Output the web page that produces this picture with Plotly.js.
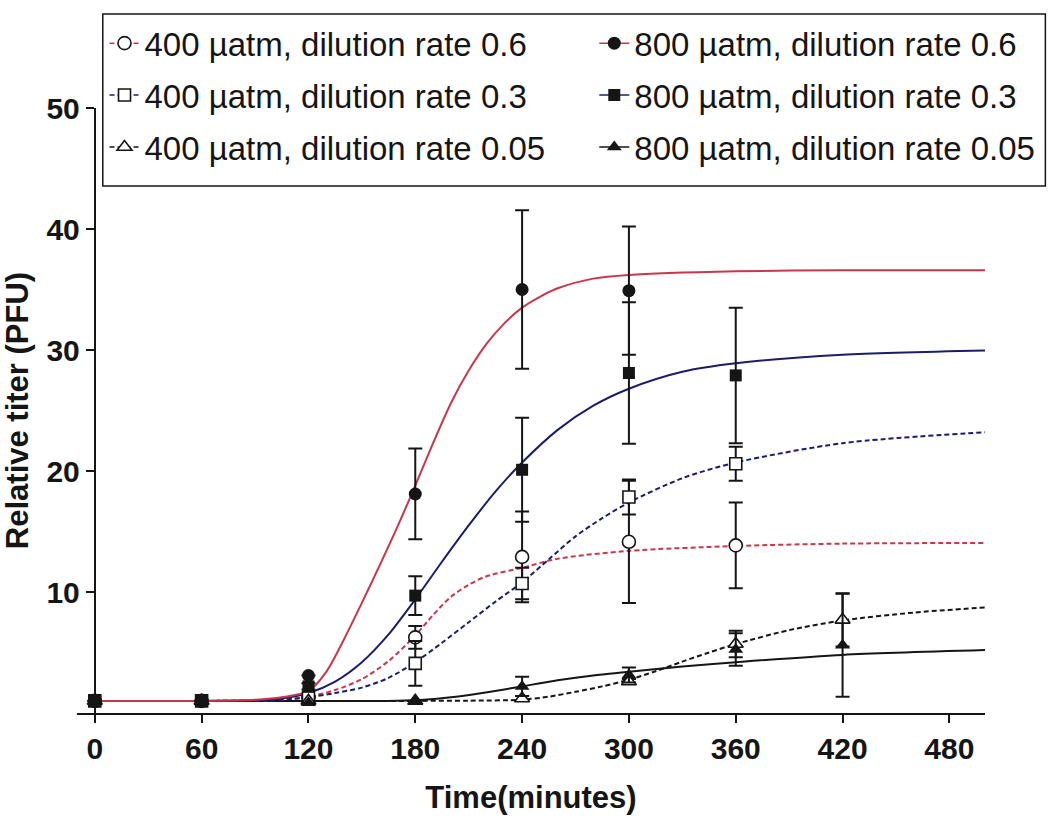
<!DOCTYPE html>
<html>
<head>
<meta charset="utf-8">
<script src="https://cdn.plot.ly/plotly-3.0.1.min.js"></script>
<style>
  html, body { margin: 0; padding: 0; background: #fff; }
  #chart { width: 1056px; height: 826px; }
</style>
</head>
<body>
<div id="chart"></div>
<script>
/* ── Measured points (mean, SD) ───────────────────────────── */
const TIME = [0, 60, 120, 180, 240, 300, 360, 420];

const lo06Y   = [1, 1, 1.3, 6.25, 12.9, 14.15, 13.85];
const lo06Err = [0, 0, 0, 0.95, 3.75, 5.05, 3.55];
const lo03Y   = [1, 1, 1.25, 4.1, 10.7, 17.85, 20.6];
const lo03Err = [0, 0, 0, 1.85, 1.3, 1.45, 1.4];
const lo005Y   = [1, 1, 1.0, 1.0, 1.2, 2.6, 5.7, 7.7];
const lo005Err = [0, 0, 0, 0, 0.2, 0.2, 1.1, 2.2];

const hi06Y   = [1, 1, 3.1, 18.1, 35.0, 34.9];
const hi06Err = [0, 0, 0, 3.75, 6.55, 5.3];
const hi03Y   = [1, 1, 2.2, 9.7, 20.1, 28.1, 27.9];
const hi03Err = [0, 0, 0.25, 1.6, 4.3, 5.85, 5.6];
const hi005Y   = [1, 1, 0.85, 1.0, 2.2, 3.15, 5.25, 5.6];
const hi005Err = [0, 0, 0, 0, 0.8, 0.62, 1.35, 4.25];

/* ── Fitted curves ────────────────────────────────────────── */
const fitHi06X = [0, 60, 90, 105, 120, 130, 140, 150, 160, 170, 180, 190, 200, 210, 220, 230, 240, 250, 260, 280, 300, 360, 420, 500];
const fitHi06Y = [1, 1, 1.1, 1.3, 1.8, 3.4, 6.1, 9.1, 12.2, 15.4, 18.8, 22.3, 25.6, 28.3, 30.5, 32.2, 33.5, 34.4, 35.1, 35.9, 36.2, 36.5, 36.6, 36.6];
const fitHi03X = [0, 60, 90, 105, 120, 135, 150, 165, 180, 195, 210, 225, 240, 260, 280, 300, 330, 360, 420, 500];
const fitHi03Y = [1, 1, 1.05, 1.2, 1.65, 2.6, 4.2, 6.5, 9.4, 12.5, 15.5, 18.3, 20.7, 23.4, 25.4, 26.8, 28.2, 28.9, 29.6, 29.95];
const fitHi005X = [0, 60, 120, 150, 170, 185, 200, 215, 230, 240, 260, 280, 300, 330, 360, 420, 500];
const fitHi005Y = [1, 1, 1, 1, 1.02, 1.1, 1.3, 1.6, 1.95, 2.2, 2.7, 3.1, 3.4, 3.85, 4.2, 4.8, 5.2];

const fitLo06X = [0, 60, 90, 105, 120, 135, 150, 165, 180, 190, 200, 210, 220, 240, 260, 300, 360, 420, 500];
const fitLo06Y = [1, 1, 1.02, 1.1, 1.35, 1.9, 2.8, 4.3, 6.4, 8.1, 9.6, 10.6, 11.3, 12.0, 12.75, 13.4, 13.8, 14.0, 14.05];
const fitLo03X = [0, 60, 90, 105, 120, 135, 150, 165, 180, 195, 210, 225, 240, 255, 270, 285, 300, 330, 360, 420, 500];
const fitLo03Y = [1, 1, 1.02, 1.1, 1.3, 1.65, 2.1, 2.9, 4.2, 5.8, 7.5, 9.2, 10.8, 12.7, 14.6, 16.1, 17.4, 19.4, 20.7, 22.3, 23.2];
const fitLo005X = [0, 60, 120, 180, 210, 240, 255, 270, 285, 300, 315, 330, 345, 360, 390, 420, 460, 500];
const fitLo005Y = [1, 1, 1, 1, 1.02, 1.1, 1.35, 1.75, 2.2, 2.75, 3.45, 4.25, 5.0, 5.7, 6.85, 7.65, 8.3, 8.72];

/* ── Style ────────────────────────────────────────────────── */
const FONT = 'Liberation Sans, Arial, Helvetica, sans-serif';
const RED = '#c8374c', NAVY = '#1c1c6e', INK = '#151515';
const DASH = '5px,3px';

// null between points keeps the legend line swatch but draws no connecting line
const gap = a => a.flatMap((v, i) => (i ? [null, v] : [v]));

function fitTrace(x, y, color, dashed) {
  return {
    x: x, y: y, type: 'scatter', mode: 'lines', showlegend: false, hoverinfo: 'skip',
    line: { color: color, width: 2, dash: dashed ? DASH : 'solid', shape: 'spline', smoothing: 0.8 }
  };
}

function pointTrace(name, y, err, color, dashed, symbol, open, legend, rank, size) {
  const x = TIME.slice(0, y.length);
  return {
    name: name, legend: legend, legendrank: rank, legendgroup: name,
    x: gap(x), y: gap(y), type: 'scatter', mode: 'lines+markers', connectgaps: false,
    line: { color: color, width: 1.5, dash: dashed ? DASH : 'solid' },
    marker: { symbol: symbol, size: size, color: open ? '#fff' : INK,
              line: { color: INK, width: open ? 1.6 : 0 } },
    error_y: { type: 'data', array: gap(err), visible: true, color: INK, thickness: 2, width: 7 },
    hovertemplate: name + '<br>%{x} min: %{y:.2f}<extra></extra>'
  };
}

const traces = [
  fitTrace(fitLo005X, fitLo005Y, INK, true),
  fitTrace(fitHi005X, fitHi005Y, INK, false),
  fitTrace(fitLo06X, fitLo06Y, RED, true),
  fitTrace(fitLo03X, fitLo03Y, NAVY, true),
  fitTrace(fitHi03X, fitHi03Y, NAVY, false),
  fitTrace(fitHi06X, fitHi06Y, RED, false),
  pointTrace('400 µatm, dilution rate 0.6',  lo06Y,  lo06Err,  RED,  true,  'circle',      true,  'legend',  1, 13),
  pointTrace('400 µatm, dilution rate 0.3',  lo03Y,  lo03Err,  NAVY, true,  'square',      true,  'legend',  2, 12),
  pointTrace('400 µatm, dilution rate 0.05', lo005Y, lo005Err, INK,  true,  'triangle-up', true,  'legend',  3, 13),
  pointTrace('800 µatm, dilution rate 0.05', hi005Y, hi005Err, INK,  false, 'triangle-up', false, 'legend2', 3, 13),
  pointTrace('800 µatm, dilution rate 0.6',  hi06Y,  hi06Err,  RED,  false, 'circle',      false, 'legend2', 1, 13),
  pointTrace('800 µatm, dilution rate 0.3',  hi03Y,  hi03Err,  NAVY, false, 'square',      false, 'legend2', 2, 12)
];

const X_RANGE = [-10, 500];
const axisBase = {
  showline: true, linewidth: 2, linecolor: INK, mirror: false,
  ticks: 'outside', ticklen: 8, tickwidth: 2, tickcolor: INK,
  showgrid: false, zeroline: false,
  tickfont: { family: FONT, size: 30, weight: 'bold', color: INK }
};
const legendBase = {
  xanchor: 'left', yanchor: 'top', bgcolor: 'rgba(0,0,0,0)', borderwidth: 0,
  font: { family: FONT, size: 33, color: INK }, tracegroupgap: 6, itemclick: false
};

const layout = {
  width: 1056, height: 826,
  margin: { l: 77, r: 71, t: 108, b: 113 },
  paper_bgcolor: '#fff', plot_bgcolor: '#fff',
  font: { family: FONT, color: INK },
  xaxis: Object.assign({}, axisBase, {
    range: X_RANGE, tickvals: [0, 60, 120, 180, 240, 300, 360, 420, 480],
    title: { text: 'Time(minutes)', font: { family: FONT, size: 31, weight: 'bold', color: INK }, standoff: 22 }
  }),
  yaxis: Object.assign({}, axisBase, {
    range: [0, 50], tickvals: [10, 20, 30, 40, 50],
    anchor: 'free', position: (0 - X_RANGE[0]) / (X_RANGE[1] - X_RANGE[0]),
    title: { text: 'Relative titer (PFU)', font: { family: FONT, size: 31, weight: 'bold', color: INK }, standoff: 8 }
  }),
  legend:  Object.assign({}, legendBase, { x: 0.0303, y: 1.1534 }),
  legend2: Object.assign({}, legendBase, { x: 0.5697, y: 1.1534 }),
  shapes: [{
    type: 'rect', xref: 'paper', yref: 'paper',
    x0: 0.0284, x1: 1.0665, y0: 0.871, y1: 1.1554,
    line: { color: INK, width: 1.5 }, fillcolor: 'rgba(0,0,0,0)', layer: 'above'
  }],
  showlegend: true
};

Plotly.newPlot('chart', traces, layout, { displayModeBar: false, responsive: false });
</script>
</body>
</html>
